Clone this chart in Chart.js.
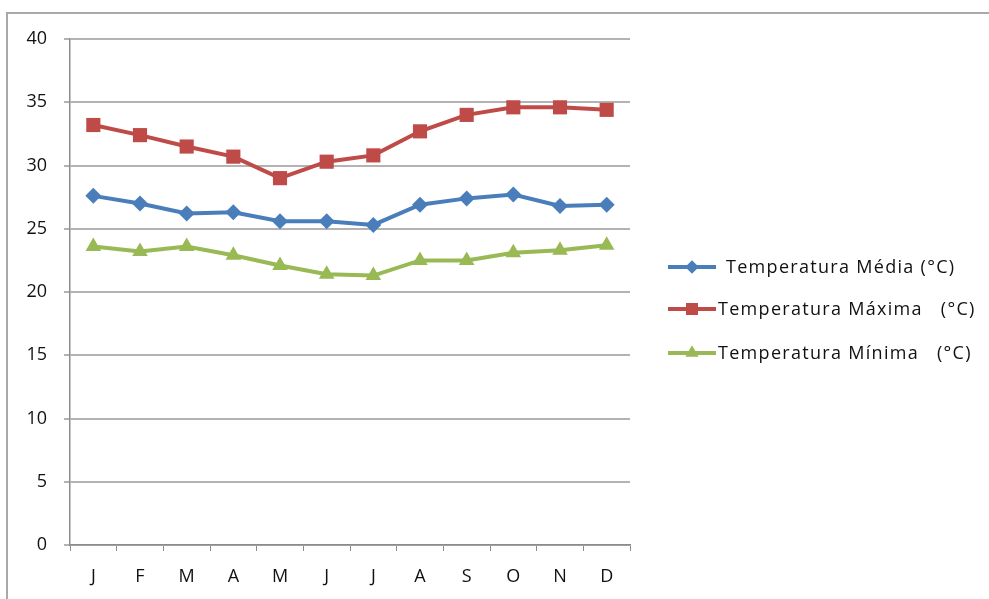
<!DOCTYPE html>
<html>
<head>
<meta charset="utf-8">
<title>Temperaturas</title>
<script src="https://cdn.jsdelivr.net/npm/chart.js@4/dist/chart.umd.min.js"></script>
<style>
    html, body { margin: 0; padding: 0; background: #fff; }
    #wrap { width: 989px; height: 599px; position: relative; }
</style>
</head>
<body>
<div id="wrap"><canvas id="chartTemp" width="989" height="599"></canvas></div>
<script>
// --- Daten ---
const meses = ['J', 'F', 'M', 'A', 'M', 'J', 'J', 'A', 'S', 'O', 'N', 'D'];
const tempMedia  = [27.6, 27.0, 26.2, 26.3, 25.6, 25.6, 25.3, 26.9, 27.4, 27.7, 26.8, 26.9];
const tempMaxima = [33.2, 32.4, 31.5, 30.7, 29.0, 30.3, 30.8, 32.7, 34.0, 34.6, 34.6, 34.4];
const tempMinima = [23.6, 23.2, 23.6, 22.9, 22.1, 21.4, 21.3, 22.5, 22.5, 23.1, 23.3, 23.7];
const yTicks = [0, 5, 10, 15, 20, 25, 30, 35, 40];

const fontName = '"Open Sans", "Liberation Sans", sans-serif';

// --- Rahmen um das Diagramm ---
const framePlugin = {
    id: 'frame',
    beforeDraw(chart) {
        const ctx = chart.ctx;
        ctx.save();
        ctx.strokeStyle = '#a9a9a9';
        ctx.lineWidth = 2;
        ctx.strokeRect(7, 13, 1000, 700);
        ctx.restore();
    }
};

// --- Legende rechts (Linie mit Marker) ---
const legendPlugin = {
    id: 'sideLegend',
    afterDraw(chart) {
        const ctx = chart.ctx;
        const rows = [267, 309, 353];
        ctx.save();
        chart.data.datasets.forEach((ds, i) => {
            const y = rows[i];
            ctx.strokeStyle = ds.borderColor;
            ctx.lineWidth = 4;
            ctx.beginPath();
            ctx.moveTo(668, y);
            ctx.lineTo(716, y);
            ctx.stroke();
            ctx.fillStyle = ds.borderColor;
            Chart.helpers.drawPoint(ctx, {
                pointStyle: ds.pointStyle,
                radius: ds.pointRadius * 0.85,
                rotation: 0,
                borderWidth: 0
            }, 692, y);
            ctx.fillStyle = '#111';
            ctx.font = '18px ' + fontName;
            ctx.letterSpacing = '1.3px';
            ctx.textBaseline = 'middle';
            ctx.fillText(ds.label, i === 0 ? 726 : 718, y + 1);
        });
        ctx.restore();
    }
};

function serie(label, data, color, style, radius) {
    return {
        label: label,
        data: data,
        borderColor: color,
        backgroundColor: color,
        borderWidth: 4,
        pointStyle: style,
        pointRadius: radius,
        pointHoverRadius: radius,
        pointBorderWidth: 0,
        tension: 0
    };
}

new Chart(document.getElementById('chartTemp').getContext('2d'), {
    type: 'line',
    data: {
        labels: meses,
        datasets: [
            serie('Temperatura Média (°C)', tempMedia, '#4a7ebb', 'rectRot', 8),
            serie('Temperatura Máxima   (°C)', tempMaxima, '#be4b48', 'rect', 10),
            serie('Temperatura Mínima   (°C)', tempMinima, '#98b954', 'triangle', 9)
        ]
    },
    options: {
        responsive: false,
        animation: false,
        layout: { padding: { left: 0, right: 359, top: 39, bottom: 0 } },
        plugins: {
            legend: { display: false },
            tooltip: { enabled: false }
        },
        scales: {
            x: {
                offset: true,
                grid: {
                    offset: true,
                    drawOnChartArea: false,
                    drawTicks: true,
                    tickLength: 6,
                    color: '#8c8c8c',
                    lineWidth: 1
                },
                border: { color: '#8c8c8c', width: 1.5 },
                ticks: {
                    color: '#111',
                    font: { family: fontName, size: 18 },
                    padding: 15,
                    maxRotation: 0,
                    autoSkip: false
                },
                afterFit(scale) { scale.height = 54; }
            },
            y: {
                min: 0,
                max: 40,
                afterBuildTicks(scale) {
                    scale.ticks = yTicks.map(v => ({ value: v }));
                },
                grid: {
                    color: '#b3b3b3',
                    lineWidth: 2,
                    drawTicks: true,
                    tickLength: 6
                },
                border: { color: '#8c8c8c', width: 1.5 },
                ticks: {
                    color: '#111',
                    font: { family: fontName, size: 18 },
                    padding: 17
                },
                afterFit(scale) { scale.width = 70; }
            }
        }
    },
    plugins: [framePlugin, legendPlugin]
});
</script>
</body>
</html>
